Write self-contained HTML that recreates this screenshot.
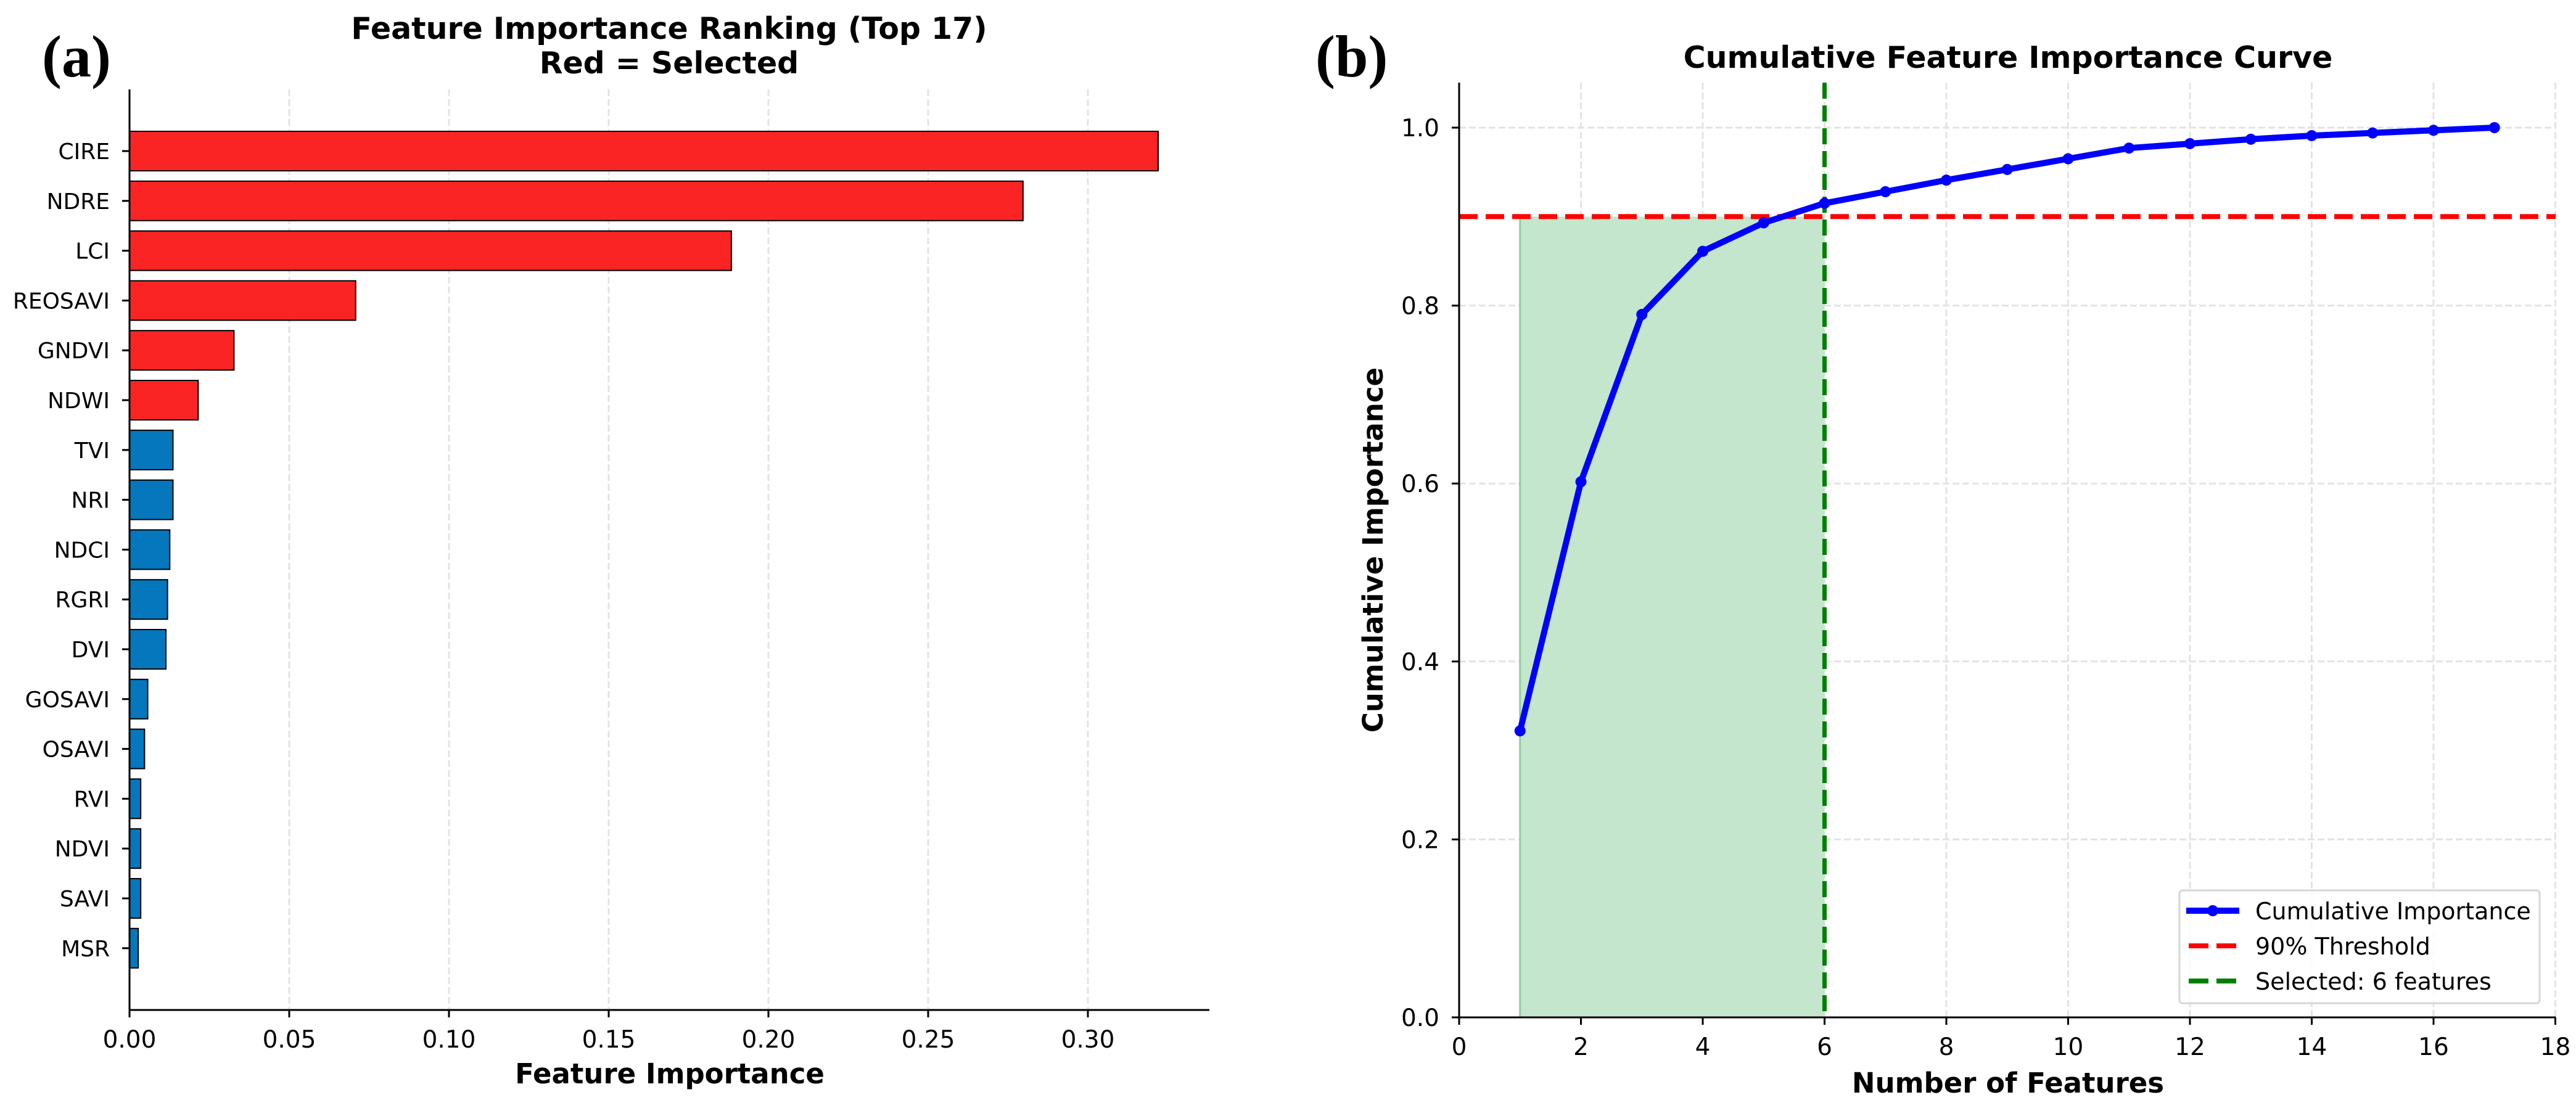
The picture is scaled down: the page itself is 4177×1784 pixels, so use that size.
<!DOCTYPE html>
<html><head><meta charset="utf-8"><style>
html,body{margin:0;padding:0;background:#fff;}
svg{display:block;font-family:"DejaVu Sans","Liberation Sans",sans-serif;}
</style></head><body>
<svg id="fig" width="4177" height="1784" viewBox="0 0 4177 1784" xmlns="http://www.w3.org/2000/svg">
<rect width="4177" height="1784" fill="#fff"/>
<g id="left"></g>
<g id="right"></g>
</svg>
<script>
const features = ["CIRE","NDRE","LCI","REOSAVI","GNDVI","NDWI","TVI","NRI","NDCI","RGRI","DVI","GOSAVI","OSAVI","RVI","NDVI","SAVI","MSR"];
const importance = [0.322,0.2797,0.1884,0.0708,0.0327,0.0215,0.0136,0.0136,0.0126,0.0119,0.0114,0.0057,0.0047,0.0035,0.0035,0.0035,0.0027];
const selectedCount = 6;
const xTicksLeft = [0,0.05,0.10,0.15,0.20,0.25,0.30];
const xTickLabelsLeft = ["0.00","0.05","0.10","0.15","0.20","0.25","0.30"];
const nFeatures = [1,2,3,4,5,6,7,8,9,10,11,12,13,14,15,16,17];
const cumulative = [0.322,0.602,0.790,0.861,0.893,0.915,0.928,0.941,0.953,0.965,0.977,0.982,0.987,0.991,0.994,0.997,1.0];
const threshold = 0.9;
const xTicksRight = [0,2,4,6,8,10,12,14,16,18];
const yTicksRight = [0,0.2,0.4,0.6,0.8,1.0];
const yTickLabelsRight = ["0.0","0.2","0.4","0.6","0.8","1.0"];

const NS="http://www.w3.org/2000/svg";
function mk(parent,tag,attrs,text){const e=document.createElementNS(NS,tag);for(const k in attrs)e.setAttribute(k,attrs[k]);if(text!==undefined)e.textContent=text;parent.appendChild(e);return e;}

// ---------- LEFT ----------
const L=document.getElementById('left');
const lx0=210, lPerUnit=5180, lTop=145, lBot=1638, lRight=1961;
const lx=v=>lx0+v*lPerUnit;
const rowY0=245, rowStep=80.8, barH=64;
const ly=i=>rowY0+i*rowStep;
xTicksLeft.forEach((t,i)=>{
  if(i>0){const g=mk(L,'line',{x1:lx(t),x2:lx(t),y1:lTop,y2:lBot,stroke:'#e3e3e3','stroke-width':3,'stroke-dasharray':'11,5'});
  
  }
});
features.forEach((f,i)=>{
  const b=mk(L,'rect',{x:lx(0),y:ly(i)-barH/2,width:lx(importance[i])-lx(0),height:barH,fill:i<selectedCount?'#fb2424':'#0577bd',stroke:'#000','stroke-width':2});
  
  
  const tk=mk(L,'line',{x1:lx0-12,x2:lx0,y1:ly(i),y2:ly(i),stroke:'#000','stroke-width':3});
  
  
  const tl=mk(L,'text',{x:178,y:ly(i)+13,'text-anchor':'end','font-size':36},f);
  
  
});
xTicksLeft.forEach((t,i)=>{
  const tk=mk(L,'line',{x1:lx(t),x2:lx(t),y1:lBot,y2:lBot+12,stroke:'#000','stroke-width':3});
  
  
  const tl=mk(L,'text',{x:lx(t),y:1699,'text-anchor':'middle','font-size':39},xTickLabelsLeft[i]);
  
  
});
let s=mk(L,'line',{x1:lx0,x2:lx0,y1:lTop,y2:lBot,stroke:'#000','stroke-width':3});


s=mk(L,'line',{x1:lx0-1.5,x2:lRight,y1:lBot,y2:lBot,stroke:'#000','stroke-width':3});


s=mk(L,'text',{x:1085,y:63,'text-anchor':'middle','font-size':49,'font-weight':'bold'},'Feature Importance Ranking (Top 17)');


s=mk(L,'text',{x:1085,y:119,'text-anchor':'middle','font-size':49,'font-weight':'bold'},'Red = Selected');


s=mk(L,'text',{x:1086,y:1757,'text-anchor':'middle','font-size':45,'font-weight':'bold'},'Feature Importance');


s=mk(L,'text',{x:68,y:124,'font-size':96,'font-weight':'bold','font-family':'Liberation Serif, serif'},'(a)');



// ---------- RIGHT ----------
const R=document.getElementById('right');
const rx0=2366, rPerUnit=98.75, ry0=1650, rPerY=1443, rTop=134, rRight=4144;
const rx=v=>rx0+v*rPerUnit;
const ry=v=>ry0-v*rPerY;
xTicksRight.forEach(t=>{ if(t>0){
  const g=mk(R,'line',{x1:rx(t),x2:rx(t),y1:rTop,y2:ry0,stroke:'#e3e3e3','stroke-width':3,'stroke-dasharray':'11,5'});
  
  }});
yTicksRight.forEach(t=>{ if(t>0){
  const g=mk(R,'line',{x1:rx0,x2:rRight,y1:ry(t),y2:ry(t),stroke:'#e3e3e3','stroke-width':3,'stroke-dasharray':'11,5'});
  
  }});
s=mk(R,'rect',{x:rx(nFeatures[0]),y:ry(threshold),width:rx(selectedCount)-rx(nFeatures[0]),height:ry(0)-ry(threshold),fill:'#c3e6cc'});


s=mk(R,'line',{x1:rx(nFeatures[0]),x2:rx(nFeatures[0]),y1:ry(threshold),y2:ry(0),stroke:'#8fcf9c','stroke-width':3});


s=mk(R,'line',{x1:rx0,x2:rRight,y1:ry(threshold),y2:ry(threshold),stroke:'#ff0000','stroke-width':8,'stroke-dasharray':'30,13'});


s=mk(R,'line',{x1:rx(selectedCount),x2:rx(selectedCount),y1:rTop,y2:ry0,stroke:'#008000','stroke-width':7,'stroke-dasharray':'26,11'});


const pts=nFeatures.map((n,i)=>rx(n)+','+ry(cumulative[i])).join(' ');
s=mk(R,'polyline',{points:pts,fill:'none',stroke:'#0000ff','stroke-width':10,'stroke-linejoin':'round'});


nFeatures.forEach((n,i)=>{
  const c=mk(R,'circle',{cx:rx(n),cy:ry(cumulative[i]),r:9,fill:'#0000ff'});
  
  
});
xTicksRight.forEach(t=>{
  const tk=mk(R,'line',{x1:rx(t),x2:rx(t),y1:ry0,y2:ry0+12,stroke:'#000','stroke-width':3});
  
  
  const tl=mk(R,'text',{x:rx(t),y:1711,'text-anchor':'middle','font-size':39},String(t));
  
  
});
yTicksRight.forEach((t,i)=>{
  const tk=mk(R,'line',{x1:rx0-12,x2:rx0,y1:ry(t),y2:ry(t),stroke:'#000','stroke-width':3});
  
  
  const tl=mk(R,'text',{x:2334,y:ry(t)+14,'text-anchor':'end','font-size':39},yTickLabelsRight[i]);
  
  
});
s=mk(R,'line',{x1:rx0,x2:rx0,y1:rTop,y2:ry0,stroke:'#000','stroke-width':3});


s=mk(R,'line',{x1:rx0-1.5,x2:rRight,y1:ry0,y2:ry0,stroke:'#000','stroke-width':3});


s=mk(R,'text',{x:3256,y:110,'text-anchor':'middle','font-size':49,'font-weight':'bold'},'Cumulative Feature Importance Curve');


s=mk(R,'text',{x:3256,y:1772,'text-anchor':'middle','font-size':45,'font-weight':'bold'},'Number of Features');


s=mk(R,'text',{x:2242,y:892,'text-anchor':'middle','font-size':45,'font-weight':'bold',transform:'rotate(-90 2242 892)'},'Cumulative Importance');


s=mk(R,'text',{x:2133,y:124,'font-size':96,'font-weight':'bold','font-family':'Liberation Serif, serif'},'(b)');


const lg=mk(R,'g',{});


mk(lg,'rect',{x:3534,y:1444,width:584,height:183,rx:5,fill:'#fff','fill-opacity':0.85,stroke:'#d6d6d6','stroke-width':3});
const legY=[1477,1534,1591];
let e=mk(lg,'line',{x1:3545,x2:3631,y1:legY[0],y2:legY[0],stroke:'#0000ff','stroke-width':10});


mk(lg,'circle',{cx:3588,cy:legY[0],r:9,fill:'#0000ff'});
e=mk(lg,'line',{x1:3549,x2:3627,y1:legY[1],y2:legY[1],stroke:'#ff0000','stroke-width':8,'stroke-dasharray':'32,13'});


e=mk(lg,'line',{x1:3549,x2:3627,y1:legY[2],y2:legY[2],stroke:'#008000','stroke-width':8,'stroke-dasharray':'32,13'});


const legTxt=['Cumulative Importance','90% Threshold','Selected: 6 features'];
legTxt.forEach((t,i)=>{
  const tx=mk(lg,'text',{x:3657,y:legY[i]+14,'font-size':38},t);
  
  
});
</script>
</body></html>
